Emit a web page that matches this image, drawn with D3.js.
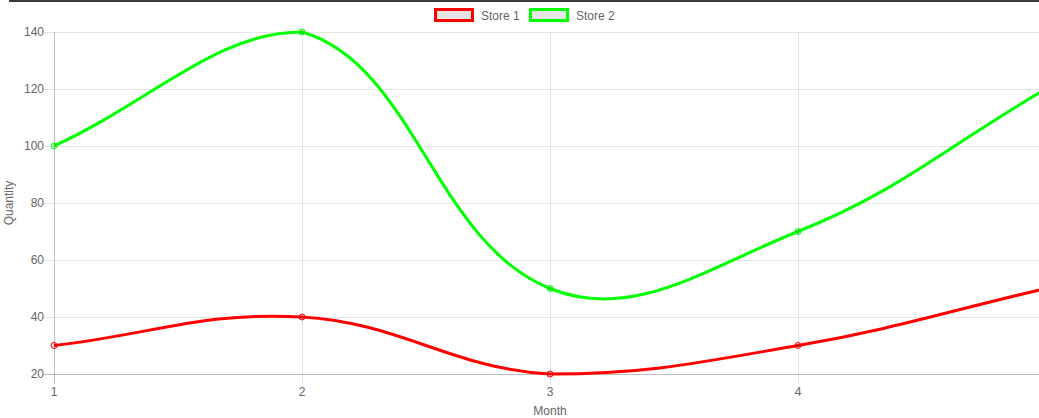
<!DOCTYPE html>
<html>
<head>
<meta charset="utf-8">
<script src="https://cdn.jsdelivr.net/npm/d3@7"></script>
<style>
  html, body { margin: 0; padding: 0; background: #fff; overflow: hidden; }
  svg { display: block; font-family: "Liberation Sans", Arial, sans-serif; }
  .tick-label { font-size: 12px; fill: #666; }
  .axis-title { font-size: 12px; fill: #666; }
</style>
</head>
<body>
<div id="chart"></div>
<script>
// chart values
const months = [1, 2, 3, 4, 5];
const store1 = [30, 40, 20, 30, 50];
const store2 = [100, 140, 50, 70, 120];
const yTicks = [20, 40, 60, 80, 100, 120, 140];

const SERIES = [
  { name: "Store 1", values: store1, color: "#ff0000" },
  { name: "Store 2", values: store2, color: "#00ff00" }
];

const W = 1039, H = 418;
// plot area runs past the right edge of the window, like the original canvas
const AREA = { left: 54, right: 1046, top: 32, bottom: 374 };

const svg = d3.select("#chart").append("svg")
    .attr("width", W).attr("height", H);

const x = d3.scaleLinear().domain([1, 5]).range([AREA.left, AREA.right]);
const y = d3.scaleLinear().domain([20, 140]).range([AREA.bottom, AREA.top]);

// dark strip along the top edge
svg.append("rect").attr("x", 9).attr("y", 0).attr("width", W - 9).attr("height", 2)
    .attr("fill", "#3a3a3a");

// GRID (with chart.js style tick marks sticking out)
const grid = svg.append("g");
yTicks.forEach(v => {
  grid.append("line")
      .attr("x1", AREA.left - 10).attr("x2", AREA.right)
      .attr("y1", Math.round(y(v)) + 0.5).attr("y2", Math.round(y(v)) + 0.5)
      .attr("stroke", v === 20 ? "rgba(0,0,0,0.25)" : "rgba(0,0,0,0.1)");
  grid.append("text").attr("class", "tick-label")
      .attr("x", AREA.left - 10).attr("y", y(v) + 4)
      .attr("text-anchor", "end").text(v);
});
months.forEach(m => {
  grid.append("line")
      .attr("x1", Math.round(x(m)) + 0.5).attr("x2", Math.round(x(m)) + 0.5)
      .attr("y1", AREA.top).attr("y2", AREA.bottom + 10)
      .attr("stroke", m === 1 ? "rgba(0,0,0,0.25)" : "rgba(0,0,0,0.1)");
  if (x(m) < W - 10) {   // the last month's label falls outside the window
    grid.append("text").attr("class", "tick-label")
        .attr("x", x(m)).attr("y", AREA.bottom + 22)
        .attr("text-anchor", "middle").text(m);
  }
});

// axis titles
svg.append("text").attr("class", "axis-title")
    .attr("transform", `translate(13,${(AREA.top + AREA.bottom) / 2}) rotate(-90)`)
    .attr("text-anchor", "middle").text("Quantity");
svg.append("text").attr("class", "axis-title")
    .attr("x", (AREA.left + AREA.right) / 2).attr("y", 415)
    .attr("text-anchor", "middle").text("Month");

// chart.js-like spline (tension 0.4, control points capped to the chart area)
function splinePath(pts, t){
  const cap = p => [Math.max(AREA.left, Math.min(AREA.right, p[0])),
                    Math.max(AREA.top, Math.min(AREA.bottom, p[1]))];
  const ctrl = pts.map((cur, i) => {
    const prev = pts[i - 1] || cur, next = pts[i + 1] || cur;
    const d01 = Math.hypot(cur[0] - prev[0], cur[1] - prev[1]);
    const d12 = Math.hypot(next[0] - cur[0], next[1] - cur[1]);
    let s01 = d01 / (d01 + d12), s12 = d12 / (d01 + d12);
    if (isNaN(s01)) s01 = 0;
    if (isNaN(s12)) s12 = 0;
    const fa = t * s01, fb = t * s12;
    return {
      before: cap([cur[0] - fa * (next[0] - prev[0]), cur[1] - fa * (next[1] - prev[1])]),
      after:  cap([cur[0] + fb * (next[0] - prev[0]), cur[1] + fb * (next[1] - prev[1])])
    };
  });
  const p = d3.path();
  p.moveTo(pts[0][0], pts[0][1]);
  for (let i = 1; i < pts.length; i++){
    const a = ctrl[i - 1].after, b = ctrl[i].before;
    p.bezierCurveTo(a[0], a[1], b[0], b[1], pts[i][0], pts[i][1]);
  }
  return p.toString();
}

// LINES + POINTS
SERIES.forEach(s => {
  const pts = months.map((m, i) => [x(m), y(s.values[i])]);
  svg.append("path")
      .attr("d", splinePath(pts, 0.4))
      .attr("fill", "none")
      .attr("stroke", s.color)
      .attr("stroke-width", 3);
  svg.append("g").selectAll("circle").data(pts).join("circle")
      .attr("cx", d => d[0]).attr("cy", d => d[1]).attr("r", 3)
      .attr("fill", "rgba(0,0,0,0.1)")
      .attr("stroke", s.color).attr("stroke-width", 1);
});

// LEGEND
const legend = svg.append("g");
const legendX = [434, 529];
SERIES.forEach((s, i) => {
  legend.append("rect")
      .attr("x", legendX[i] + 1.5).attr("y", 9.5).attr("width", 37).attr("height", 11)
      .attr("fill", "rgba(0,0,0,0.1)")
      .attr("stroke", s.color).attr("stroke-width", 3);
  legend.append("text").attr("class", "tick-label")
      .attr("x", legendX[i] + 47).attr("y", 19.5).text(s.name);
});
</script>
</body>
</html>
